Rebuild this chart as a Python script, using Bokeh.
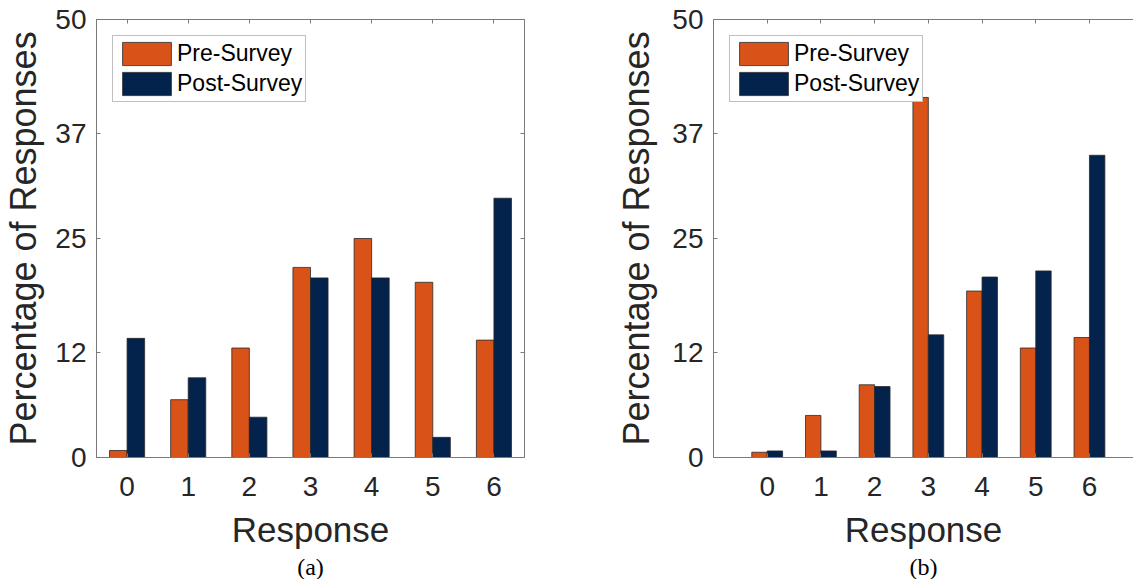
from bokeh.plotting import figure
from bokeh.models import FixedTicker, LinearAxis, Range1d, Title, ColumnDataSource, Legend, LegendItem
from bokeh.layouts import row
from bokeh.transform import dodge
from bokeh.embed import file_html
from bokeh.resources import INLINE

# ---- data ----
responses = [0, 1, 2, 3, 4, 5, 6]
pre_a = [0.8, 6.6, 12.5, 21.7, 25.0, 20.0, 13.4]
post_a = [13.6, 9.1, 4.6, 20.5, 20.5, 2.3, 29.6]
pre_b = [0.6, 4.8, 8.3, 41.1, 19.0, 12.5, 13.7]
post_b = [0.75, 0.75, 8.1, 14.0, 20.6, 21.3, 34.5]
y_ticks = [0, 12, 25, 37, 50]
series_names = ["Pre-Survey", "Post-Survey"]
captions = ["(a)", "(b)"]
x_label = "Response"
y_label = "Percentage of Responses"

ORANGE = "#D95319"
NAVY = "#03224C"
AXIS_C = "#7a7a7a"
TEXT_C = "#262626"
FONT = "Liberation Sans"
BAR_W = 0.287
HEIGHT = 579


def hidden_axis(ticks):
    return LinearAxis(ticker=FixedTicker(ticks=ticks), major_label_text_font_size="1px",
                      major_label_text_color=None, major_label_standoff=0,
                      axis_line_color=AXIS_C, major_tick_line_color=AXIS_C,
                      major_tick_in=4, major_tick_out=0, minor_tick_line_color=None)


def make_panel(pre, post, caption, x_start, x_end, width, b_left, b_right, boxed, ylab_standoff):
    src = ColumnDataSource(dict(x=responses, pre=pre, post=post))
    p = figure(width=width, height=HEIGHT, output_backend="svg", toolbar_location=None,
               x_range=Range1d(x_start, x_end), y_range=Range1d(0, 50),
               min_border_left=b_left, min_border_right=b_right,
               min_border_top=19, min_border_bottom=121)
    p.grid.visible = False
    p.background_fill_color = "white"
    p.border_fill_color = "white"
    if boxed:
        p.outline_line_color = AXIS_C
        p.outline_line_width = 1
    else:
        p.outline_line_color = None

    r1 = p.vbar(x=dodge("x", -BAR_W / 2, range=p.x_range), top="pre", width=BAR_W, source=src,
                fill_color=ORANGE, line_color="#2a2a2a", line_width=0.8)
    r2 = p.vbar(x=dodge("x", BAR_W / 2, range=p.x_range), top="post", width=BAR_W, source=src,
                fill_color=NAVY, line_color="#2a2a2a", line_width=0.8)

    for ax in p.xaxis:
        ax.ticker = FixedTicker(ticks=responses)
        ax.axis_label = x_label
        ax.major_label_standoff = 19
        ax.axis_label_standoff = 11
        ax.axis_label_text_font_size = "35px"
    for ax in p.yaxis:
        ax.ticker = FixedTicker(ticks=y_ticks)
        ax.axis_label = y_label
        ax.major_label_standoff = 10
        ax.axis_label_standoff = ylab_standoff
        ax.axis_label_text_font_size = "36px"

    for ax in list(p.xaxis) + list(p.yaxis):
        ax.axis_line_color = AXIS_C
        ax.major_tick_line_color = AXIS_C
        ax.major_tick_in = 4
        ax.major_tick_out = 0
        ax.minor_tick_line_color = None
        ax.major_label_text_font = FONT
        ax.major_label_text_font_size = "28px"
        ax.major_label_text_color = TEXT_C
        ax.axis_label_text_font = FONT
        ax.axis_label_text_font_style = "normal"
        ax.axis_label_text_color = TEXT_C

    p.add_layout(hidden_axis(responses), "above")
    if boxed:
        p.add_layout(hidden_axis(y_ticks), "right")

    legend = Legend(items=[LegendItem(label=series_names[0], renderers=[r1]),
                           LegendItem(label=series_names[1], renderers=[r2])],
                    location="top_left", margin=16, padding=3, spacing=1,
                    glyph_width=61, glyph_height=29, label_height=29, label_standoff=0,
                    label_text_font=FONT, label_text_font_size="23px", label_text_color="black",
                    border_line_color="#808080", border_line_width=1,
                    background_fill_color="white", background_fill_alpha=1)
    p.add_layout(legend)

    t = Title(text=caption, align="center", offset=-22, text_font="Liberation Serif",
              text_font_size="24px", text_font_style="normal", text_color="black", standoff=0)
    p.add_layout(t, "below")
    return p


pa = make_panel(pre_a, post_a, captions[0], -0.5, 6.5, 610, 96, 86, True, 8)
pb = make_panel(pre_b, post_b, captions[1], -1.0, 6.82, 523, 103, 0, False, 12)

layout = row(pa, pb)
open("out.html", "w").write(file_html(layout, INLINE))
